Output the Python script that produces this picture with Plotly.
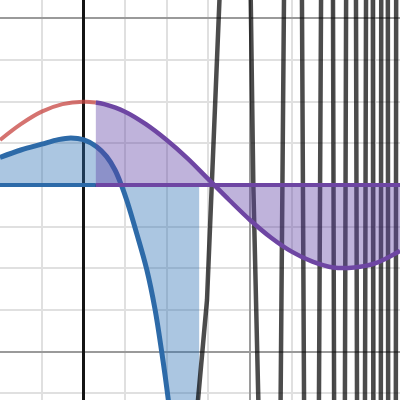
import plotly.graph_objects as go

# values (graph units, 1 unit ~ 83 px)
red_x = [-1.0, -0.75, -0.5, -0.25, 0.0, 0.15]
red_y = [0.54, 0.73, 0.88, 0.97, 1.0, 0.99]

blue_x = [-1.0, -0.75, -0.5, -0.3, -0.15, 0.0, 0.16, 0.28, 0.38, 0.46, 0.52, 0.64, 0.76, 0.86, 0.94, 1.02, 1.1]
blue_y = [0.33, 0.42, 0.49, 0.545, 0.565, 0.545, 0.46, 0.34, 0.18, -0.01, -0.18, -0.58, -1.01, -1.49, -2.0, -2.58, -3.3]
blue_fill_end = 1.39

purple_x = [0.15, 0.25, 0.5, 0.75, 1.0, 1.25, 1.5, 1.75, 2.0, 2.25, 2.5, 2.75, 3.0, 3.25, 3.5, 3.8]
purple_y = [0.99, 0.97, 0.88, 0.73, 0.54, 0.32, 0.07, -0.18, -0.42, -0.63, -0.80, -0.92, -0.99, -0.99, -0.94, -0.79]

# the black curve swings far past the window; turn points sit outside the view
black_x = [1.36, 1.376, 1.484, 1.544, 1.58, 1.634, 1.645,
           2.005, 2.04, 2.10, 2.105,
           2.365, 2.41, 2.622, 2.65, 2.826, 2.854, 2.995, 3.01,
           3.138, 3.154, 3.271, 3.285, 3.379, 3.393, 3.474, 3.48,
           3.57, 3.575, 3.654, 3.658, 3.75, 3.754, 3.83]
black_y = [-2.85, -2.58, -1.38, 0.0, 1.02, 2.22, 2.5,
           2.5, 0.0, -2.58, -2.85,
           -2.85, 2.5, 2.5, -2.85, -2.85, 2.5, 2.5, -2.85,
           -2.85, 2.5, 2.5, -2.85, -2.85, 2.5, 2.5, -2.85,
           -2.85, 2.5, 2.5, -2.85, -2.85, 2.5, 2.5]

x_range = [-1.0, 3.8]
y_range = [-2.58, 2.22]

BLUE = "rgb(45,106,168)"
PURPLE = "rgb(110,70,163)"

fig = go.Figure()

fig.add_trace(go.Scatter(x=red_x, y=red_y, mode="lines", line=dict(color="rgba(199,68,64,0.75)", width=4, shape="spline")))

fig.add_trace(go.Scatter(x=blue_x + [blue_fill_end], y=blue_y + [blue_y[-1]], mode="lines",
                         line=dict(width=0, shape="spline"), fill="tozeroy", fillcolor="rgba(45,112,179,0.4)"))
fig.add_trace(go.Scatter(x=blue_x, y=blue_y, mode="lines", line=dict(color=BLUE, width=5, shape="spline")))
fig.add_trace(go.Scatter(x=[x_range[0], purple_x[0]], y=[0, 0], mode="lines", line=dict(color=BLUE, width=4)))

fig.add_trace(go.Scatter(x=black_x, y=black_y, mode="lines", line=dict(color="rgba(0,0,0,0.7)", width=4.5)))

fig.add_trace(go.Scatter(x=purple_x, y=purple_y, mode="lines", line=dict(width=0, shape="spline"),
                         fill="tozeroy", fillcolor="rgba(96,66,166,0.4)"))
fig.add_trace(go.Scatter(x=purple_x, y=purple_y, mode="lines", line=dict(color=PURPLE, width=4.5, shape="spline")))
fig.add_trace(go.Scatter(x=[purple_x[0], x_range[1]], y=[0, 0], mode="lines", line=dict(color=PURPLE, width=4)))

axis_style = dict(
    showticklabels=False, ticks="", dtick=2, tick0=0,
    showgrid=True, gridcolor="#9a9a9a", gridwidth=1.5,
    minor=dict(dtick=0.5, tick0=0, showgrid=True, gridcolor="#e0e0e0", gridwidth=1.5),
    zeroline=True, zerolinecolor="#141414", zerolinewidth=2.5,
    showline=False, fixedrange=True,
)
fig.update_xaxes(range=x_range, **axis_style)
fig.update_yaxes(range=y_range, **axis_style)

fig.update_layout(width=400, height=400, margin=dict(l=0, r=0, t=0, b=0),
                  plot_bgcolor="white", paper_bgcolor="white", showlegend=False)

fig.write_html("out.html", config={"displayModeBar": False},
               post_script="document.body.style.margin='0';")
